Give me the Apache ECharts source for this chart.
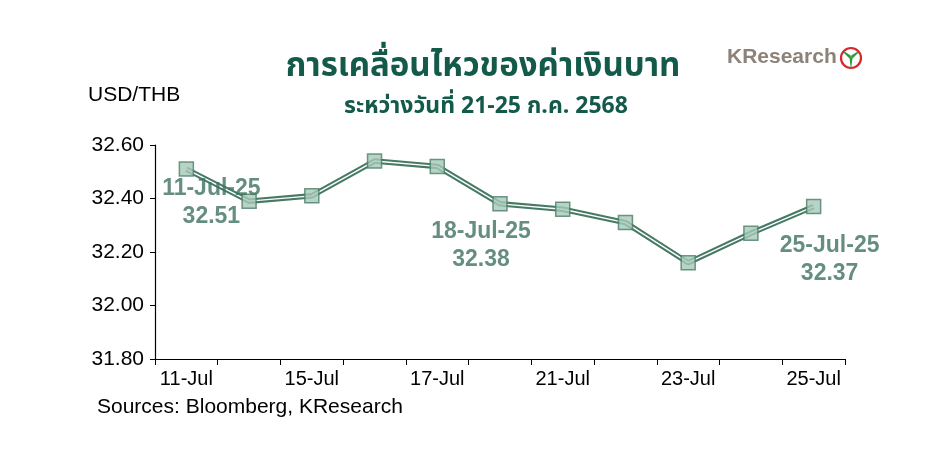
<!DOCTYPE html>
<html>
<head>
<meta charset="utf-8">
<script src="https://cdn.jsdelivr.net/npm/echarts@6/dist/echarts.min.js"></script>
<style>
  html, body { margin: 0; padding: 0; background: #fff; }
  #chart { width: 939px; height: 471px; }
</style>
</head>
<body>
<div id="chart"></div>
<script>
// data
const dates = ['11-Jul', '14-Jul', '15-Jul', '16-Jul', '17-Jul', '18-Jul', '21-Jul', '22-Jul', '23-Jul', '24-Jul', '25-Jul'];
const usdThb = [32.51, 32.39, 32.41, 32.54, 32.52, 32.38, 32.36, 32.31, 32.16, 32.27, 32.37];
const labelledIdx = [0, 5, 10];
const yearSuffix = '-25';

const thaiFont = '"Noto Sans Thai", "Noto Sans", "DejaVu Sans", sans-serif';
const arial = '"Liberation Sans", Arial, sans-serif';
const dark = '#467a64';
const labelColor = '#3f7260';

// label offsets for the three annotated points
const labelOffsets = { 0: [25, 34], 5: [-19, 42], 10: [16, 53] };

const pointData = usdThb.map((v, i) => {
  if (labelledIdx.indexOf(i) < 0) return v;
  return {
    value: v,
    label: {
      show: true,
      position: 'inside',
      offset: labelOffsets[i],
      formatter: p => dates[i] + yearSuffix + '\n' + p.value.toFixed(2),
      color: labelColor,
      fontFamily: arial,
      fontWeight: 'bold',
      fontSize: 23,
      lineHeight: 28
    }
  };
});

const chart = echarts.init(document.getElementById('chart'));
chart.setOption({
  animation: false,
  backgroundColor: '#fff',
  title: [
    {
      text: 'การเคลื่อนไหวของค่าเงินบาท',
      left: 478, top: 48, textAlign: 'center',
      textStyle: { fontFamily: thaiFont, fontSize: 33, fontWeight: 'bold', color: '#135a4a' }
    },
    {
      text: 'ระหว่างวันที่ 21-25 ก.ค. 2568',
      left: 481, top: 92, textAlign: 'center',
      textStyle: { fontFamily: thaiFont, fontSize: 23, fontWeight: 'bold', color: '#135a4a' }
    }
  ],
  graphic: [
    { type: 'text', left: 88, top: 85, style: { text: 'USD/THB', font: '21px ' + arial, fill: '#000' } },
    { type: 'text', left: 97, top: 397, style: { text: 'Sources: Bloomberg, KResearch', font: '21px ' + arial, fill: '#000' } },
    { type: 'text', left: 727, top: 47, style: { text: 'KResearch', font: 'bold 21px ' + arial, fill: '#8c8279' } },
    { type: 'circle', shape: { cx: 851, cy: 58, r: 10 }, style: { fill: '#fff', stroke: '#d8262c', lineWidth: 2.2 } },
    { type: 'polygon', shape: { points: [[844, 52], [850, 56], [851, 64], [852, 56], [858, 52], [851, 59]] }, style: { fill: '#2e9a3e', stroke: '#2e9a3e', lineWidth: 1.5 } }
  ],
  grid: { left: 155, right: 94, top: 145, bottom: 112 },
  xAxis: {
    type: 'category',
    data: dates,
    boundaryGap: true,
    axisLine: { lineStyle: { color: '#000', width: 1.2 } },
    axisTick: { show: true, interval: 0, length: 6, lineStyle: { color: '#000' } },
    axisLabel: { interval: 1, color: '#000', fontFamily: arial, fontSize: 20, margin: 10 },
    splitLine: { show: false }
  },
  yAxis: {
    type: 'value',
    min: 31.8, max: 32.6, interval: 0.2,
    axisLine: { show: true, lineStyle: { color: '#000', width: 1.2 } },
    axisTick: { show: true, length: 5, lineStyle: { color: '#000' } },
    axisLabel: { color: '#000', fontFamily: arial, fontSize: 21, margin: 11, formatter: v => v.toFixed(2) },
    splitLine: { show: false }
  },
  series: [
    {
      type: 'line', data: usdThb, symbol: 'none', z: 2,
      lineStyle: { color: dark, width: 5.5 }
    },
    {
      type: 'line', data: usdThb, symbol: 'none', z: 3,
      lineStyle: { color: '#fff', width: 1.4 }
    },
    {
      type: 'scatter', data: pointData, symbol: 'rect', symbolSize: 14, z: 4,
      itemStyle: { color: '#a6c9b9', borderColor: '#4b7d69', borderWidth: 1.5 }
    }
  ]
});
</script>
</body>
</html>
